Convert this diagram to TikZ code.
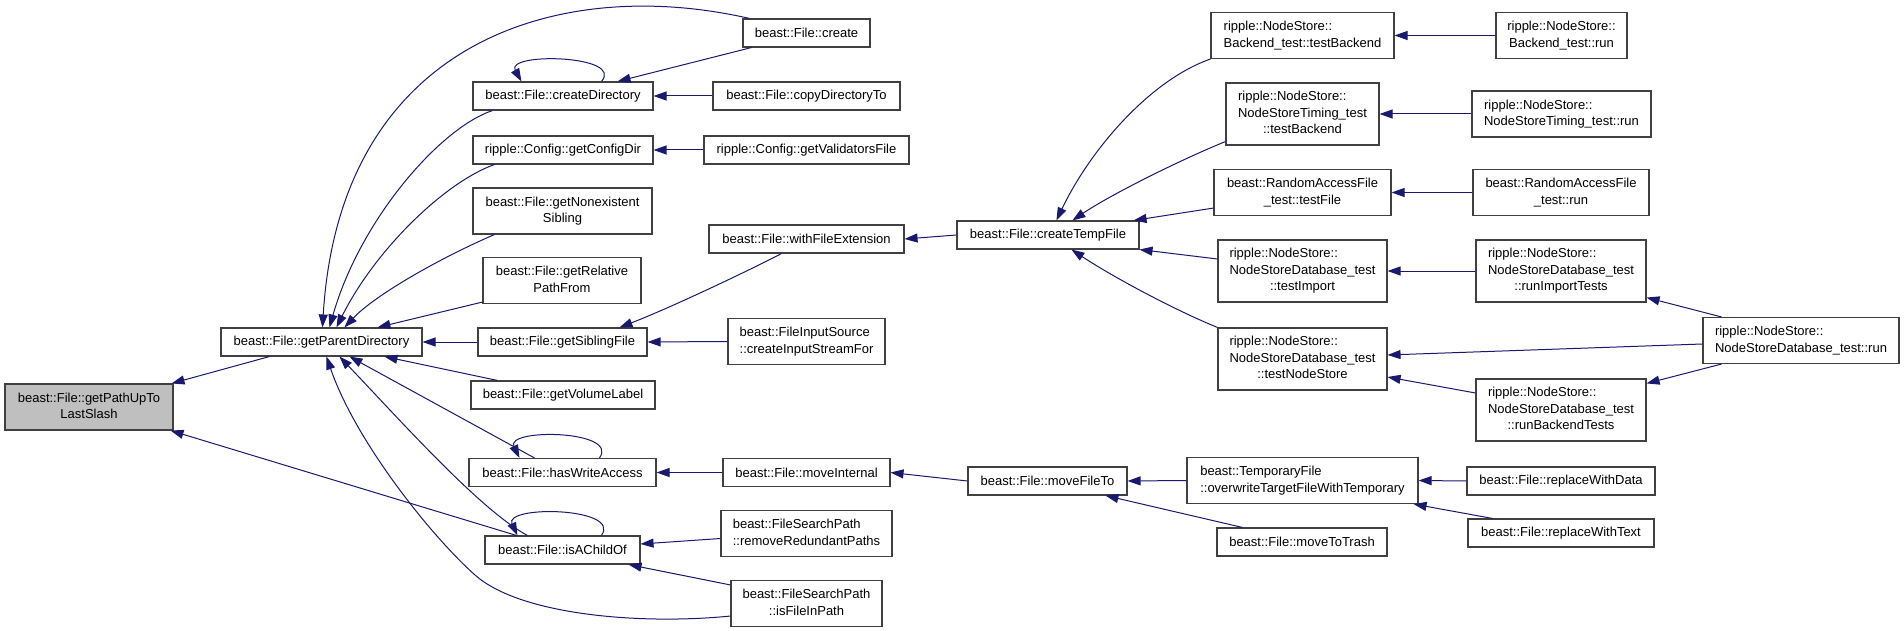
\documentclass[tikz,border=0pt]{standalone}
\usepackage{fontspec}
\setmainfont{Liberation Sans}
\usetikzlibrary{arrows.meta,calc}
\definecolor{edgecol}{HTML}{191970}
\definecolor{bordercol}{HTML}{404040}
\definecolor{rootgray}{HTML}{BFBFBF}
\newcommand{\LL}[2]{\begin{tabular}{@{}l@{}}#1\\\multicolumn{1}{@{}c@{}}{#2}\end{tabular}}
\newcommand{\LLL}[3]{\begin{tabular}{@{}l@{}}#1\\#2\\\multicolumn{1}{@{}c@{}}{#3}\end{tabular}}
\tikzset{
  fn/.style={draw=bordercol, line width=1.1pt, fill=white, inner sep=0pt, text=black,
    font=\fontsize{13}{16.5}\selectfont},
  ca/.style={draw=edgecol, line width=1pt, -{Triangle[length=13pt,width=9pt]}, fill=none}
}
\begin{document}
\begin{tikzpicture}[x=1pt,y=-1pt]
\useasboundingbox[fill=white] (0,0) rectangle (1904,631);
% nodes
\node[fn, fill=rootgray, minimum width=168pt, minimum height=46pt] (root) at (89,407) {\LL{beast::File::getPathUpTo}{LastSlash}};
\node[fn, minimum width=201pt, minimum height=28pt] (gpd) at (321.5,342) {beast::File::getParentDirectory};
\node[fn, minimum width=127pt, minimum height=28pt] (create) at (806.5,33) {beast::File::create};
\node[fn, minimum width=180pt, minimum height=28pt] (cdir) at (563,96) {beast::File::createDirectory};
\node[fn, minimum width=187pt, minimum height=28pt] (copy) at (806.5,96) {beast::File::copyDirectoryTo};
\node[fn, minimum width=180pt, minimum height=28pt] (gcd) at (563,150) {ripple::Config::getConfigDir};
\node[fn, minimum width=205pt, minimum height=28pt] (gvf) at (806.5,150) {ripple::Config::getValidatorsFile};
\node[fn, minimum width=179pt, minimum height=46pt] (gns) at (562.5,211) {\LL{beast::File::getNonexistent}{Sibling}};
\node[fn, minimum width=158pt, minimum height=46pt] (grp) at (562,280.5) {\LL{beast::File::getRelative}{PathFrom}};
\node[fn, minimum width=169pt, minimum height=28pt] (gsf) at (562.5,342) {beast::File::getSiblingFile};
\node[fn, minimum width=184pt, minimum height=28pt] (gvl) at (563,395) {beast::File::getVolumeLabel};
\node[fn, minimum width=187pt, minimum height=28pt] (hwa) at (562.5,472.5) {beast::File::hasWriteAccess};
\node[fn, minimum width=155pt, minimum height=28pt] (iac) at (562.5,550) {beast::File::isAChildOf};
\node[fn, minimum width=195pt, minimum height=28pt] (wfe) at (806.5,239) {beast::File::withFileExtension};
\node[fn, minimum width=157pt, minimum height=46pt] (fis) at (806.5,341.5) {\LL{beast::FileInputSource}{::createInputStreamFor}};
\node[fn, minimum width=167pt, minimum height=28pt] (mi) at (806.5,472.5) {beast::File::moveInternal};
\node[fn, minimum width=171pt, minimum height=46pt] (rrp) at (806.5,533.5) {\LL{beast::FileSearchPath}{::removeRedundantPaths}};
\node[fn, minimum width=151pt, minimum height=46pt] (ifp) at (806.5,603.5) {\LL{beast::FileSearchPath}{::isFileInPath}};
\node[fn, minimum width=182pt, minimum height=28pt] (ctf) at (1048,235) {beast::File::createTempFile};
\node[fn, minimum width=159pt, minimum height=28pt] (mft) at (1047.5,481) {beast::File::moveFileTo};
\node[fn, minimum width=183pt, minimum height=46pt] (btb) at (1302.5,35.5) {\LL{ripple::NodeStore::}{Backend\_test::testBackend}};
\node[fn, minimum width=153pt, minimum height=62pt] (ntb) at (1302.5,114) {\LLL{ripple::NodeStore::}{NodeStoreTiming\_test}{::testBackend}};
\node[fn, minimum width=177pt, minimum height=46pt] (rtf) at (1302.5,192.5) {\LL{beast::RandomAccessFile}{\_test::testFile}};
\node[fn, minimum width=169pt, minimum height=62pt] (nti) at (1302.5,271) {\LLL{ripple::NodeStore::}{NodeStoreDatabase\_test}{::testImport}};
\node[fn, minimum width=169pt, minimum height=62pt] (nns) at (1302.5,359) {\LLL{ripple::NodeStore::}{NodeStoreDatabase\_test}{::testNodeStore}};
\node[fn, minimum width=231pt, minimum height=46pt] (tof) at (1302.5,480.5) {\LL{beast::TemporaryFile}{::overwriteTargetFileWithTemporary}};
\node[fn, minimum width=170pt, minimum height=28pt] (mtt) at (1302,542) {beast::File::moveToTrash};
\node[fn, minimum width=131pt, minimum height=46pt] (brun) at (1561.5,35.5) {\LL{ripple::NodeStore::}{Backend\_test::run}};
\node[fn, minimum width=179pt, minimum height=46pt] (ntrun) at (1561.5,114) {\LL{ripple::NodeStore::}{NodeStoreTiming\_test::run}};
\node[fn, minimum width=176pt, minimum height=46pt] (rrun) at (1561,192.5) {\LL{beast::RandomAccessFile}{\_test::run}};
\node[fn, minimum width=170pt, minimum height=62pt] (rit) at (1561,271) {\LLL{ripple::NodeStore::}{NodeStoreDatabase\_test}{::runImportTests}};
\node[fn, minimum width=170pt, minimum height=62pt] (rbt) at (1561,410) {\LLL{ripple::NodeStore::}{NodeStoreDatabase\_test}{::runBackendTests}};
\node[fn, minimum width=188pt, minimum height=28pt] (rwd) at (1561,481) {beast::File::replaceWithData};
\node[fn, minimum width=186pt, minimum height=28pt] (rwt) at (1561,533) {beast::File::replaceWithText};
\node[fn, minimum width=196pt, minimum height=46pt] (ndr) at (1801,340.5) {\LL{ripple::NodeStore::}{NodeStoreDatabase\_test::run}};
\coordinate (ifpmid) at (475,575);
% edges
\draw[ca] ($(gpd.south west)+(49,0)$) -- ($(root.north east)+(-2,0)$);
\draw[ca] ($(iac.north west)+(32,0)$) -- ($(root.south east)+(-3,0)$);
\draw[ca] ($(create.north west)+(7,0)$) .. controls (560,-25) and (340,40) .. ($(gpd.north west)+(102,0)$);
\draw[ca] ($(cdir.north west)+(129,0)$) .. controls (625,55) and (505,52) .. ($(cdir.north west)+(49,0)$);
\draw[ca] ($(create.south west)+(9,0)$) -- ($(cdir.north east)+(-36,0)$);
\draw[ca] (copy.west) -- (cdir.east);
\draw[ca] ($(cdir.south west)+(20,0)$) .. controls (440,128) and (360,220) .. ($(gpd.north west)+(109,0)$);
\draw[ca] (gvf.west) -- (gcd.east);
\draw[ca] ($(gcd.south west)+(22,0)$) .. controls (445,182) and (375,250) .. ($(gpd.north west)+(116,0)$);
\draw[ca] ($(gns.south west)+(22,0)$) .. controls (440,258) and (375,295) .. ($(gpd.north west)+(124,0)$);
\draw[ca] ($(grp.south west)+(0,-2)$) -- ($(gpd.north west)+(157,0)$);
\draw[ca] ($(wfe.south west)+(73,0)$) .. controls (750,270) and (670,308) .. ($(gsf.north west)+(142,0)$);
\draw[ca] (ctf.west) -- (wfe.east);
\draw[ca] (gsf.west) -- (gpd.east);
\draw[ca] (fis.west) -- (gsf.east);
\draw[ca] ($(gvl.north west)+(27,0)$) -- ($(gpd.south west)+(164,0)$);
\draw[ca] ($(hwa.north west)+(131,0)$) .. controls (620,430) and (505,428) .. ($(hwa.north west)+(51,0)$);
\draw[ca] ($(hwa.north west)+(66,0)$) -- ($(gpd.south west)+(129,0)$);
\draw[ca] (mi.west) -- (hwa.east);
\draw[ca] (mft.west) -- (mi.east);
\draw[ca] ($(iac.north west)+(117,0)$) .. controls (622,507) and (503,505) .. ($(iac.north west)+(33,0)$);
\draw[ca] ($(iac.north west)+(43,0)$) .. controls (480,510) and (400,420) .. ($(gpd.south west)+(119,0)$);
\draw[ca] ($(rrp.west)+(0,5)$) -- ($(iac.east)+(0,-6)$);
\draw[ca] ($(ifp.north west)+(0,5)$) -- ($(iac.south east)+(-12,0)$);
\draw[ca] ($(ifp.south west)+(0,-11)$) .. controls (640,625) and (520,615) .. (ifpmid) .. controls (430,535) and (355,440) .. ($(gpd.south west)+(106,0)$);
\draw[ca] (btb.south west) .. controls (1150,80) and (1090,150) .. ($(ctf.north west)+(100,0)$);
\draw[ca] ($(ntb.south west)+(0,-4)$) .. controls (1180,160) and (1110,195) .. ($(ctf.north west)+(116,0)$);
\draw[ca] ($(rtf.south west)+(0,-8)$) -- ($(ctf.north east)+(-6,0)$);
\draw[ca] ($(nti.west)+(0,-12)$) -- (ctf.south east);
\draw[ca] (nns.north west) .. controls (1170,308) and (1110,275) .. ($(ctf.south west)+(115,0)$);
\draw[ca] (brun.west) -- (btb.east);
\draw[ca] (ntrun.west) -- (ntb.east);
\draw[ca] (rrun.west) -- (rtf.east);
\draw[ca] (rit.west) -- (nti.east);
\draw[ca] ($(ndr.west)+(0,3.5)$) -- ($(nns.east)+(0,-4)$);
\draw[ca] ($(rbt.west)+(0,-17)$) -- ($(nns.east)+(0,18)$);
\draw[ca] ($(ndr.north west)+(19,0)$) -- ($(rit.south east)+(0,-5)$);
\draw[ca] ($(ndr.south west)+(19,0)$) -- ($(rbt.north east)+(0,5)$);
\draw[ca] (tof.west) -- (mft.east);
\draw[ca] ($(mtt.north west)+(26,0)$) -- ($(mft.south west)+(138,0)$);
\draw[ca] (rwd.west) -- (tof.east);
\draw[ca] ($(rwt.north west)+(25,0)$) -- ($(tof.south east)+(-5,0)$);
\end{tikzpicture}
\end{document}
